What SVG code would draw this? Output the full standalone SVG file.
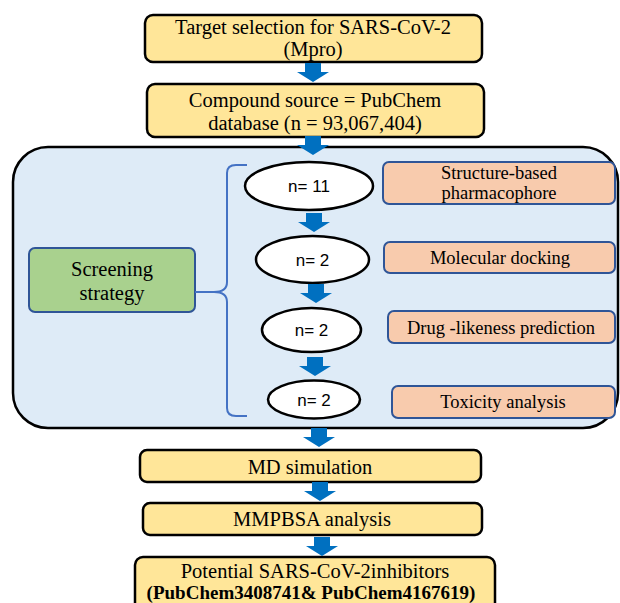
<svg xmlns="http://www.w3.org/2000/svg" width="620" height="603" viewBox="0 0 620 603">
<style>
.y{fill:#FFE699;stroke:#000;stroke-width:2.5}
.o{fill:#F8CBAD;stroke:#2F5597;stroke-width:2}
.e{fill:#fff;stroke:#000;stroke-width:2.5}
.t{font-family:"Liberation Serif","Times New Roman",serif;fill:#000;text-anchor:middle}
.s{font-family:"Liberation Sans",Arial,sans-serif;fill:#000;text-anchor:middle;font-size:17px}
.ar{fill:#0070C0}
</style>
<defs>
<path id="arw" d="M-8,0 H8 V9 H16 L0,19 L-16,9 H-8 Z"/>
</defs>
<rect width="620" height="603" fill="#fff"/>
<g id="container">
<rect x="13" y="147" width="605" height="281" rx="35" fill="#DEEBF7" stroke="#000" stroke-width="2.5"/>
</g>
<g id="n1">
<rect class="y" x="145" y="15" width="337" height="47" rx="8"/>
<text class="t" font-size="20.5" x="313" y="34">Target selection for SARS-CoV-2</text>
<text class="t" font-size="20.5" x="313" y="56">(Mpro)</text>
</g>
<g id="n2">
<rect class="y" x="147" y="84" width="337" height="53" rx="8"/>
<text class="t" font-size="20.5" x="315" y="107">Compound source = PubChem</text>
<text class="t" font-size="20.5" x="315" y="130">database (n = 93,067,404)</text>
</g>
<g id="screening">
<rect x="29" y="248" width="166" height="64" rx="6" fill="#A9D18E" stroke="#2F5597" stroke-width="2"/>
<text class="t" font-size="20.5" x="112" y="276">Screening</text>
<text class="t" font-size="20.5" x="112" y="300">strategy</text>
</g>
<g id="brace" fill="none" stroke="#4472C4" stroke-width="2">
<path d="M195,292 H214 Q227,292 227,282 V173 Q227,165 236,165 H247"/>
<path d="M214,292 Q227,292 227,302 V408 Q227,416 236,416 H247"/>
</g>
<g id="e1">
<ellipse class="e" cx="309" cy="186" rx="64" ry="24"/>
<text class="s" x="309" y="192">n= 11</text>
</g>
<g id="e2">
<ellipse class="e" cx="312.5" cy="259.5" rx="56.5" ry="23.5"/>
<text class="s" x="312.5" y="265.5">n= 2</text>
</g>
<g id="e3">
<ellipse class="e" cx="311.5" cy="330" rx="49.5" ry="22"/>
<text class="s" x="311.5" y="336">n= 2</text>
</g>
<g id="e4">
<ellipse class="e" cx="314" cy="399.5" rx="46" ry="19"/>
<text class="s" x="314" y="405.5">n= 2</text>
</g>
<g id="o1">
<rect class="o" x="383" y="162" width="232" height="42" rx="6"/>
<text class="t" font-size="18.5" x="499" y="179">Structure-based</text>
<text class="t" font-size="18.5" x="499" y="199">pharmacophore</text>
</g>
<g id="o2">
<rect class="o" x="384" y="242" width="231" height="31" rx="6"/>
<text class="t" font-size="18.5" x="500" y="264">Molecular docking</text>
</g>
<g id="o3">
<rect class="o" x="388" y="311" width="227" height="32" rx="6"/>
<text class="t" font-size="18.5" x="501" y="334">Drug -likeness prediction</text>
</g>
<g id="o4">
<rect class="o" x="392" y="386" width="223" height="32" rx="6"/>
<text class="t" font-size="18.5" x="503" y="408">Toxicity analysis</text>
</g>
<g id="md">
<rect class="y" x="140" y="450" width="341" height="32" rx="7"/>
<text class="t" font-size="20.5" x="310" y="474">MD simulation</text>
</g>
<g id="mmpbsa">
<rect class="y" x="143" y="503" width="339" height="32" rx="7"/>
<text class="t" font-size="20.5" x="312" y="526">MMPBSA analysis</text>
</g>
<g id="final">
<rect class="y" x="135" y="557" width="360" height="56" rx="8"/>
<text class="t" font-size="20.5" x="315" y="578">Potential SARS-CoV-2inhibitors</text>
<text class="t" font-size="19" font-weight="bold" x="311" y="599">(PubChem3408741&amp; PubChem4167619)</text>
</g>
<g id="connectors" class="ar">
<use href="#arw" transform="translate(313,63)"/>
<use href="#arw" transform="translate(313,136)"/>
<use href="#arw" transform="translate(314,213)"/>
<use href="#arw" transform="translate(316,284)"/>
<use href="#arw" transform="translate(315,357)"/>
<use href="#arw" transform="translate(319,428)"/>
<use href="#arw" transform="translate(320,482)"/>
<use href="#arw" transform="translate(322,537)"/>
</g>
</svg>
